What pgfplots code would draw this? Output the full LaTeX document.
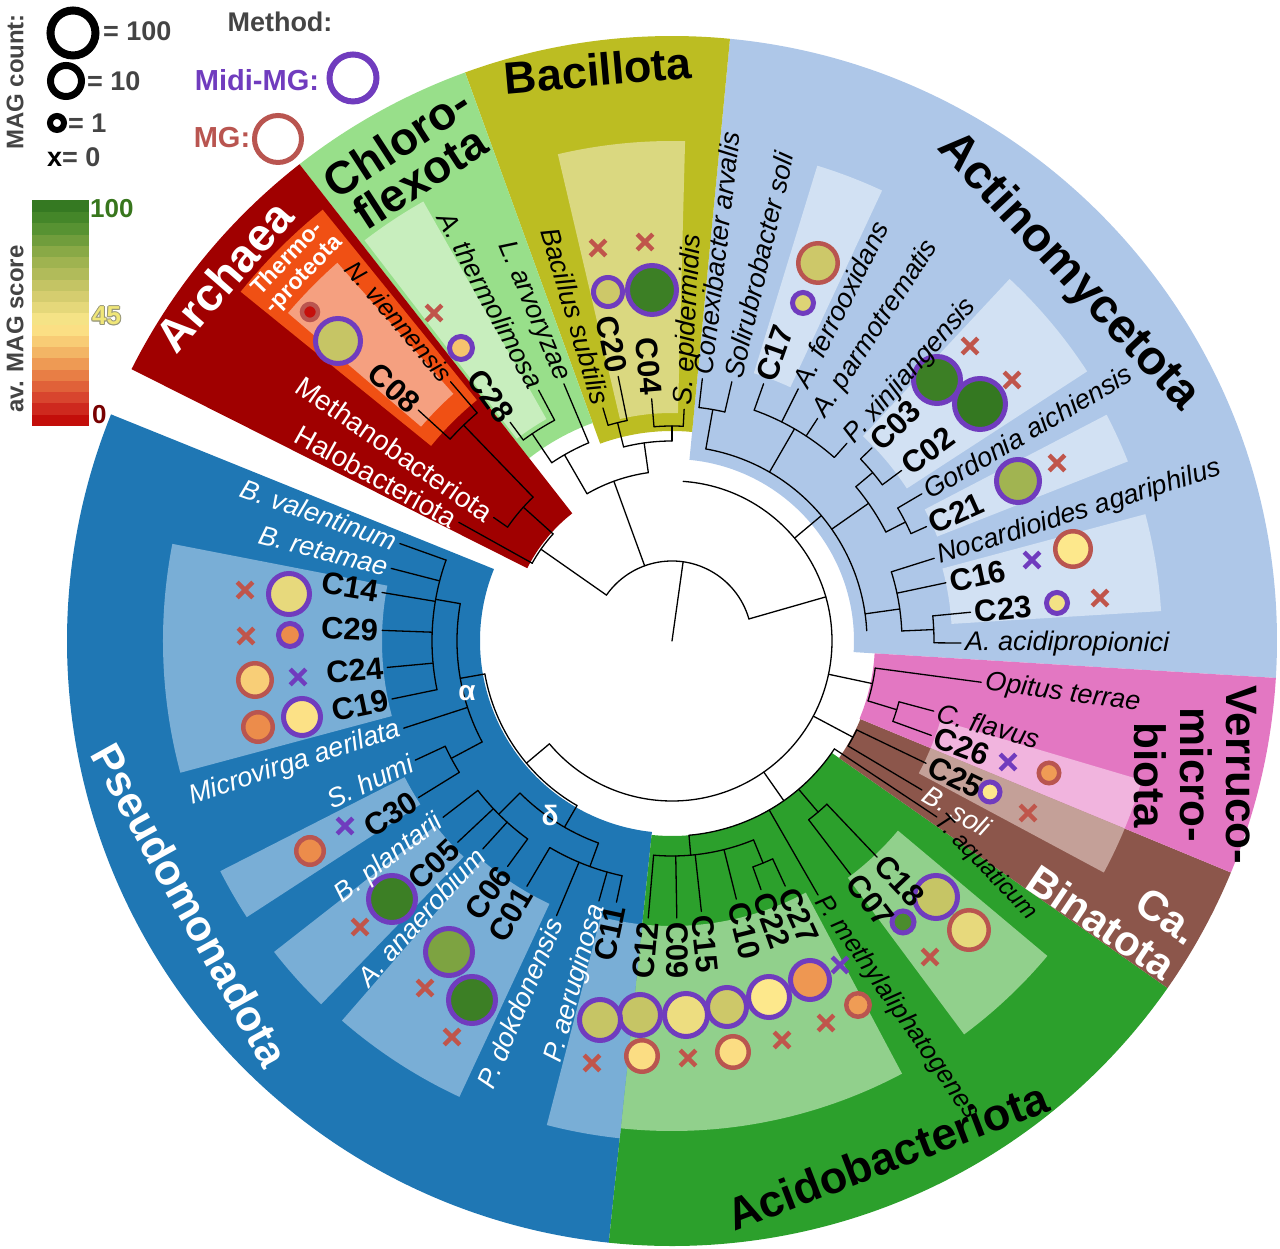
\documentclass[border=0pt]{standalone}
\usepackage{fontspec}
\setmainfont{Liberation Sans}
\usepackage{pgfplots}
\pgfplotsset{compat=1.18}
\definecolor{archaea}{RGB}{160,0,0}
\definecolor{thermo}{RGB}{240,80,20}
\definecolor{salmon}{RGB}{245,160,128}
\definecolor{chloro}{RGB}{152,223,138}
\definecolor{chloroL}{RGB}{200,238,190}
\definecolor{bacil}{RGB}{188,189,34}
\definecolor{bacilL}{RGB}{218,216,128}
\definecolor{actino}{RGB}{174,199,232}
\definecolor{actinoL}{RGB}{210,225,243}
\definecolor{verru}{RGB}{227,119,194}
\definecolor{verruL}{RGB}{241,180,222}
\definecolor{binat}{RGB}{140,86,75}
\definecolor{binatL}{RGB}{196,160,152}
\definecolor{acido}{RGB}{44,160,44}
\definecolor{acidoL}{RGB}{145,208,140}
\definecolor{pseudo}{RGB}{31,119,180}
\definecolor{pseudoL}{RGB}{121,174,214}
\definecolor{midi}{RGB}{112,60,190}
\definecolor{mgc}{RGB}{185,85,80}
\definecolor{mgx}{RGB}{192,85,75}
\definecolor{lgray}{RGB}{68,68,68}
\definecolor{cb100}{RGB}{56,118,29}
\definecolor{cb45}{RGB}{240,230,120}
\definecolor{cb45o}{RGB}{150,150,120}
\definecolor{cb0}{RGB}{120,0,0}
\newcommand{\sect}[5]{\fill[#1] (#2:#4pt) arc[start angle=#2, end angle=#3, radius=#4pt] -- (#3:#5pt) arc[start angle=#3, end angle=#2, radius=#5pt] -- cycle;}
\newcommand{\rl}[3]{\draw[tree] (#1:#2pt) -- (#1:#3pt);}
\newcommand{\al}[3]{\draw[tree] (#1:#3pt) arc[start angle=#1, end angle=#2, radius=#3pt];}
\newcommand{\spi}{\fontsize{27}{30}\selectfont\itshape}
\newcommand{\cbf}{\fontsize{31}{34}\selectfont\bfseries}
\newcommand{\upf}{\fontsize{28}{30}\selectfont}
\newcommand{\LR}[4][black]{\node[anchor=west, rotate=#2, inner sep=0pt, text=#1] at (#2:#3pt) {#4};}
\newcommand{\LL}[4][black]{\node[anchor=east, rotate=#2-180, inner sep=0pt, text=#1] at (#2:#3pt) {#4};}
\begin{document}
\begin{tikzpicture}[tree/.style={line width=1.3pt, black, line cap=round}]
\useasboundingbox (-672pt,-608pt) rectangle (608pt,641pt);
% phylum sectors
\sect{actino}{-3.5}{84.5}{182}{605}
\sect{bacil}{84.5}{110}{210}{605}
\sect{chloro}{110}{128}{232}{605}
\sect{archaea}{128}{153.3}{162}{605}
\sect{pseudo}{158}{264}{192}{605}
\sect{acido}{-96}{-35}{195}{605}
\sect{binat}{-35}{-22.5}{204}{605}
\sect{verru}{-22.5}{-3.5}{203}{605}
% sub regions and highlights
\sect{thermo}{129}{141}{310}{555}
\sect{salmon}{131.5}{139.5}{330}{505}
\sect{chloroL}{119.5}{127.5}{255}{505}
\sect{bacilL}{88.5}{103.2}{228}{500}
\sect{actinoL}{65}{73}{280}{497}
\sect{actinoL}{33}{47}{280}{495}
\sect{actinoL}{21.5}{27.5}{285}{490}
\sect{actinoL}{3.5}{15}{280}{490}
\sect{verruL}{-22.5}{-16.5}{280}{490}
\sect{binatL}{-28.2}{-22.5}{280}{490}
\sect{acidoL}{-53.4}{-40}{295}{490}
\sect{acidoL}{-96}{-62}{285}{490}
\sect{pseudoL}{255.5}{264}{285}{500}
\sect{pseudoL}{229}{245}{290}{503}
\sect{pseudoL}{218}{226}{300}{505}
\sect{pseudoL}{207}{213}{300}{507}
\sect{pseudoL}{169}{195}{290}{509}
% tree
\rl{82}{0}{80} \al{16}{145}{80} \rl{16}{80}{160} \rl{110}{80}{170} \rl{145}{80}{160}
\al{138}{151}{160} \rl{150.9}{160}{244} \rl{138}{160}{200} \al{134}{145.3}{200}
\rl{145.3}{200}{217} \rl{134}{200}{300} \al{130.5}{137.7}{300} \rl{130.5}{300}{341} \rl{137.7}{300}{343}
\al{98}{120}{170} \rl{120}{170}{215} \al{112.8}{124}{215} \rl{112.8}{215}{279} \rl{124}{215}{250}
\al{118}{126.5}{250} \rl{118}{250}{284} \rl{126.5}{250}{272}
\rl{98}{170}{200} \al{90}{104}{200} \rl{104}{200}{225} \al{101.5}{106.5}{225} \rl{106.5}{225}{243} \rl{101.5}{225}{270}
\rl{90}{200}{215} \al{87}{94.8}{215} \rl{94.8}{215}{243} \rl{87}{215}{232}
\al{86}{-140}{160}
\rl{40}{160}{195} \al{3}{80}{195}
\rl{80}{195}{235} \al{77}{83.4}{235} \rl{83.4}{235}{264} \rl{77}{235}{266}
\rl{60}{195}{245} \al{48.5}{70.4}{245} \rl{70.4}{245}{273} \rl{63.4}{245}{282} \rl{56.8}{245}{266} \rl{48.5}{245}{264}
\rl{35}{195}{240} \al{27}{40}{240} \rl{40}{240}{262} \al{36.6}{44}{262} \rl{44}{262}{278} \rl{36.6}{262}{286}
\rl{27}{240}{262} \al{24.2}{30.5}{262} \rl{30.5}{262}{290} \rl{24.2}{262}{279}
\rl{8}{195}{230} \al{2.5}{17.5}{230} \rl{17.5}{230}{275} \rl{12}{230}{280} \rl{2.5}{230}{262} \al{-0.4}{5.5}{262} \rl{5.5}{262}{300} \rl{-0.4}{262}{289}
\rl{-12}{160}{205} \al{-17}{-7.6}{205} \rl{-7.6}{205}{312} \rl{-17}{205}{235} \al{-20}{-15}{235} \rl{-15}{235}{271} \rl{-20}{235}{276}
\rl{-28}{160}{205} \al{-30.8}{-25.7}{205} \rl{-25.7}{205}{282} \rl{-30.8}{205}{291}
\rl{-55}{160}{195} \al{-85}{-33.6}{195} \rl{-33.6}{195}{318} \rl{-49.5}{195}{225} \al{-52.6}{-46.5}{225}
\rl{-46.5}{225}{298} \rl{-52.6}{225}{294} \rl{-60.1}{195}{293} \rl{-85}{195}{215} \al{-94.9}{-67.7}{215}
\rl{-67.7}{215}{240} \al{-70.3}{-65.2}{240} \rl{-65.2}{240}{270} \rl{-70.3}{240}{264}
\rl{-76}{215}{266} \rl{-83.8}{215}{272} \rl{-89}{215}{277} \rl{-94.9}{215}{278}
\rl{220}{160}{190} \al{190}{240}{190}
\rl{190}{190}{215} \al{170}{208}{215} \rl{208}{215}{250} \al{204.9}{211.7}{250} \rl{204.9}{250}{283} \rl{211.7}{250}{298}
\rl{198}{215}{282} \rl{170}{215}{240} \al{160.3}{191.7}{240}
\rl{160.3}{240}{289} \rl{165.5}{240}{290} \rl{170.5}{240}{294} \rl{177.9}{240}{290} \rl{185.3}{240}{286} \rl{191.7}{240}{286}
\rl{240}{190}{215} \al{225}{250}{215} \rl{225}{215}{245} \al{217.6}{233.9}{245}
\rl{217.6}{245}{289} \rl{223.2}{245}{294} \rl{227.7}{245}{281} \rl{233.9}{245}{279}
\rl{250}{215}{240} \al{239.4}{258}{240} \rl{239.4}{240}{285} \rl{247.2}{240}{298} \rl{254.3}{240}{270} \rl{258}{240}{267}
\begin{axis}[anchor=origin, at={(0pt,0pt)}, x=1pt, y=1pt,
  xmin=-672, xmax=608, ymin=-608, ymax=641, hide axis, clip=false,
  point meta min=0, point meta max=100,
  colormap={mag}{rgb255(0cm)=(190,0,0); rgb255(10cm)=(212,55,40); rgb255(25cm)=(236,140,75); rgb255(35cm)=(246,195,110); rgb255(45cm)=(253,232,140); rgb255(60cm)=(205,200,105); rgb255(75cm)=(150,175,75); rgb255(90cm)=(75,140,45); rgb255(100cm)=(46,115,30)}]
% colour scale of the legend
\addplot[scatter, only marks, mark=square*, point meta=explicit,
  scatter/use mapped color={draw=mapped color, fill=mapped color},
  mark size=5.8, mark options={xscale=4.83}] table[x=x, y=y, meta=c] {
x y c
-612 221.6 2.5
-612 232.9 7.5
-612 244.1 12.5
-612 255.4 17.5
-612 266.6 22.5
-612 277.9 27.5
-612 289.1 32.5
-612 300.4 37.5
-612 311.6 42.5
-612 322.9 47.5
-612 334.1 52.5
-612 345.4 57.5
-612 356.6 62.5
-612 367.9 67.5
-612 379.1 72.5
-612 390.4 77.5
-612 401.6 82.5
-612 412.9 87.5
-612 424.1 92.5
-612 435.4 97.5
};
% legend rings
\addplot[only marks, mark=o, mark size=22.5, color=black, mark options={line width=8pt}] coordinates {(-599,608)};
\addplot[only marks, mark=o, mark size=15.5, color=black, mark options={line width=7pt}] coordinates {(-606,560)};
\addplot[only marks, mark=o, mark size=7, color=black, mark options={line width=6pt}] coordinates {(-615,518)};
\addplot[only marks, mark=o, mark size=23.5, color=midi, mark options={line width=6pt}] coordinates {(-319,563)};
\addplot[only marks, mark=o, mark size=23.5, color=mgc, mark options={line width=5pt}] coordinates {(-394,502)};
% Midi-MG MAGs
\addplot[scatter, only marks, mark=*, point meta=explicit,
  scatter/use mapped color={draw=midi, fill=mapped color},
  visualization depends on={\thisrow{s} \as \ms},
  scatter/@pre marker code/.append style={/tikz/mark size=\ms},
  mark options={line width=5pt}] table[x=x, y=y, meta=c] {
x y c s
-334 300 62 22.5
-211 293 35 11.5
-64 349 60 14.5
-20 351 95 24.5
131 338 55 10.5
265 261 95 23.5
308 237 98 25.5
346 160 72 21.5
385 38 48 10.5
318 -151 45 10
264 -256 62 21.5
231 -281 90 11
-32 -374 62 20.5
14 -374 50 21.5
55 -366 60 19.5
97 -356 45 20.5
138 -339 27 19.5
-383 47 52 20.5
-382 6 25 11.5
-370 -76 43 18.5
-280 -258 95 23.5
-223 -311 80 23.5
-200 -359 95 23.5
-72 -379 62 20.5
};
% MG MAGs
\addplot[scatter, only marks, mark=*, point meta=explicit,
  scatter/use mapped color={draw=mgc, fill=mapped color},
  visualization depends on={\thisrow{s} \as \ms},
  scatter/@pre marker code/.append style={/tikz/mark size=\ms},
  mark options={line width=4.5pt}] table[x=x, y=y, meta=c] {
x y c s
-362 329 3 8
146 378 60 19.75
401 92 45 17.75
377 -132 28 10.25
297 -289 52 19.75
186 -364 28 11.75
-30 -415 42 15.75
61 -411 42 15.75
-417 -39 38 16.75
-414 -86 25 14.75
-362 -210 25 13.75
};
% count 0
\addplot[only marks, mark=x, mark size=11, color=mgx, mark options={line width=4.5pt}] coordinates {
(-238,328) (-74,393) (-27,399) (298,295) (340,261) (385,178) (428,43) (356,-172) (258,-316)
(16,-417) (110,-399) (154,-382) (-80,-422) (-427,51) (-426,5) (-312,-286) (-247,-347) (-220,-396)};
\addplot[only marks, mark=x, mark size=11, color=midi, mark options={line width=4.5pt}] coordinates {
(360,81) (336,-121) (168,-324) (-374,-36) (-327,-185)};
\end{axis}
% leaf labels, right half
\LR{87}{236}{\spi S. epidermidis}
\LR{83.4}{268}{\spi Conexibacter arvalis}
\LR{77}{270}{\spi Solirubrobacter soli}
\LR{70.4}{277}{\cbf C17}
\LR{63.4}{286}{\spi A. ferrooxidans}
\LR{56.8}{270}{\spi A. parmotrematis}
\LR{48.5}{268}{\spi P. xinjiangensis}
\LR{44}{282}{\cbf C03}
\LR{36.6}{290}{\cbf C02}
\LR{30.5}{294}{\spi Gordonia aichiensis}
\LR{24.2}{283}{\cbf C21}
\LR{17.5}{279}{\spi Nocardioides agariphilus}
\LR{12}{284}{\cbf C16}
\LR{5.5}{304}{\cbf C23}
\LR{-0.4}{293}{\spi A. acidipropionici}
\LR{-7.6}{316}{\spi Opitus terrae}
\LR{-15}{275}{\spi C. flavus}
\LR{-20}{280}{\cbf C26}
\LR{-25.7}{286}{\cbf C25}
\LR[white]{-30.8}{295}{\spi B. soli}
\node[anchor=west, rotate=-46, inner sep=0pt] at (266pt,-177pt) {\fontsize{24}{26}\selectfont\itshape T. aquaticum};
\LR{-46.5}{302}{\cbf C18}
\LR{-52.6}{298}{\cbf C07}
\node[anchor=west, rotate=-55, inner sep=0pt] at (148pt,-257pt) {\fontsize{26}{28}\selectfont\itshape P. methylaliphatogenes};
\LR{-65.2}{274}{\cbf C27}
\LR{-70.3}{268}{\cbf C22}
\LR{-76}{270}{\cbf C10}
\LR{-83.8}{276}{\cbf C15}
\LR{-89}{281}{\cbf C09}
% leaf labels, left half
\LL{265.1}{282}{\cbf C12}
\LL{258}{271}{\cbf C11}
\LL[white]{254.3}{274}{\spi P. aeruginosa}
\LL[white]{247.2}{302}{\spi P. dokdonensis}
\LL{239.4}{289}{\cbf C01}
\LL{233.9}{283}{\cbf C06}
\LL[white]{227.7}{285}{\spi A. anaerobium}
\LL{223.2}{298}{\cbf C05}
\LL[white]{217.6}{293}{\spi B. plantarii}
\LL{211.7}{302}{\cbf C30}
\LL[white]{204.9}{287}{\spi S. humi}
\LL[white]{198}{286}{\spi Microvirga aerilata}
\LL{191.7}{290}{\cbf C19}
\LL{185.3}{290}{\cbf C24}
\LL{177.9}{294}{\cbf C29}
\LL{170.5}{298}{\cbf C14}
\LL[white]{165.5}{294}{\spi B. retamae}
\LL[white]{160.3}{293}{\spi B. valentinum}
\LL[white]{150.9}{248}{\upf Halobacteriota}
\LL[white]{145.3}{221}{\upf Methanobacteriota}
\LL{137.7}{347}{\cbf C08}
\LL{130.5}{345}{\fontsize{25}{28}\selectfont\itshape N. viennensis}
\LL{126.5}{276}{\cbf C28}
\LL{118}{288}{\spi A. thermolimosa}
\LL{112.8}{283}{\spi L. arvoryzae}
\LL{106.5}{247}{\spi Bacillus subtilis}
\LL{101.5}{274}{\cbf C20}
\LL{94.8}{247}{\cbf C04}
% clade labels
\node[rotate=49, text=white, font=\fontsize{46}{46}\selectfont\bfseries] at (-448pt,365pt) {Archaea};
\node[rotate=46, text=white, align=center, font=\fontsize{23}{23}\selectfont\bfseries] at (-376pt,374pt) {Thermo-\\-proteota};
\node[rotate=33, align=center, font=\fontsize{46}{42}\selectfont\bfseries] at (-264pt,481pt) {Chloro-\\flexota};
\node[rotate=5, font=\fontsize{45}{45}\selectfont\bfseries] at (-74pt,571pt) {Bacillota};
\node[rotate=-47, font=\fontsize{48}{48}\selectfont\bfseries] at (396pt,369pt) {Actinomycetota};
\node[rotate=-90, align=center, font=\fontsize{44}{46}\selectfont\bfseries] at (523pt,-134pt) {Verruco-\\micro-\\biota};
\node[rotate=-34, text=white, align=right, font=\fontsize{42}{42}\selectfont\bfseries] at (441pt,-264pt) {Ca.\\Binatota};
\node[rotate=21, font=\fontsize{45}{45}\selectfont\bfseries] at (215pt,-515pt) {Acidobacteriota};
\node[rotate=-61, text=white, font=\fontsize{43}{43}\selectfont\bfseries] at (-482pt,-264pt) {Pseudomonadota};
\node[text=white, font=\fontsize{28}{28}\selectfont\bfseries] at (-205pt,-52pt) {α};
\node[text=white, font=\fontsize{28}{28}\selectfont\bfseries] at (-122pt,-174pt) {δ};
% legend text
\node[rotate=90, text=lgray, font=\fontsize{24}{24}\selectfont\bfseries] at (-657pt,559pt) {MAG count:};
\node[anchor=west, inner sep=0pt, text=lgray, font=\fontsize{27}{27}\selectfont\bfseries] at (-569pt,610pt) {= 100};
\node[anchor=west, inner sep=0pt, text=lgray, font=\fontsize{27}{27}\selectfont\bfseries] at (-585pt,560pt) {= 10};
\node[anchor=west, inner sep=0pt, text=lgray, font=\fontsize{27}{27}\selectfont\bfseries] at (-604pt,518pt) {= 1};
\node[anchor=west, inner sep=0pt, text=lgray, font=\fontsize{27}{27}\selectfont\bfseries] at (-625pt,484pt) {\textcolor{black}{x}= 0};
\node[text=lgray, font=\fontsize{27}{27}\selectfont\bfseries] at (-392pt,619pt) {Method:};
\node[text=midi, font=\fontsize{29}{29}\selectfont\bfseries] at (-415pt,561pt) {Midi-MG:};
\node[text=mgc, font=\fontsize{29}{29}\selectfont\bfseries] at (-450pt,503pt) {MG:};
\node[rotate=90, text=lgray, font=\fontsize{24}{24}\selectfont\bfseries] at (-657pt,312pt) {av. MAG score};
\node[anchor=west, inner sep=0pt, text=cb100, font=\fontsize{26}{26}\selectfont\bfseries] at (-582pt,432pt) {100};
\foreach \dx/\dy in {-1/0,1/0,0/-1,0/1,-0.8/-0.8,0.8/0.8,-0.8/0.8,0.8/-0.8}
  \node[anchor=west, inner sep=0pt, text=cb45o, font=\fontsize{26}{26}\selectfont\bfseries] at (-580pt+\dx pt,325pt+\dy pt) {45};
\node[anchor=west, inner sep=0pt, text=cb45, font=\fontsize{26}{26}\selectfont\bfseries] at (-580pt,325pt) {45};
\node[anchor=west, inner sep=0pt, text=cb0, font=\fontsize{26}{26}\selectfont\bfseries] at (-580pt,226pt) {0};
\end{tikzpicture}
\end{document}
